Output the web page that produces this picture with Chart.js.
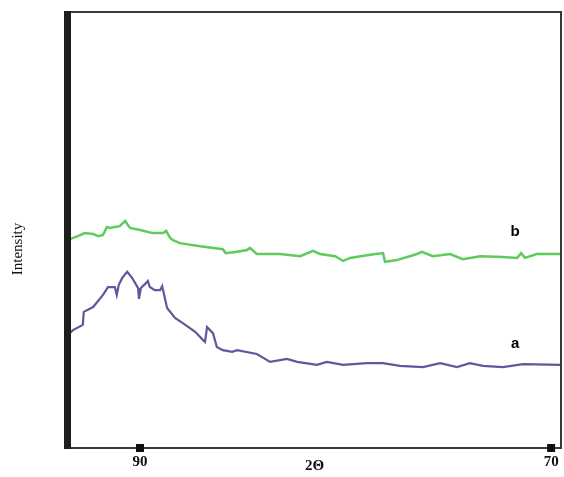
<!DOCTYPE html>
<html>
<head>
<meta charset="utf-8">
<script src="https://cdn.jsdelivr.net/npm/chart.js@4.4.1/dist/chart.umd.min.js"></script>
<style>
    body { margin: 0; background: #fff; }
    canvas { display: block; }
</style>
</head>
<body>
<canvas id="xrdChart" width="564" height="477"></canvas>
<script>
// position along the 2-theta axis (0..100 of the frame width) and relative intensity
const sampleBX = [0.4, 2.0, 3.4, 5.1, 6.1, 7.1, 7.9, 8.5, 9.5, 10.5, 11.6, 12.0, 12.6, 14.6, 17.2, 19.3, 19.9, 20.7, 21.3, 22.7,
    26.8, 31.4, 32.0, 34.3, 36.3, 36.9, 38.3, 43.0, 47.1, 49.7, 51.1, 54.2, 55.8, 57.2, 61.3, 63.9, 64.3, 66.7, 70.8, 71.8,
    74.0, 77.5, 80.1, 83.6, 88.2, 91.1, 91.9, 92.7, 95.1, 100];
const sampleBY = [48.0, 48.7, 49.4, 49.2, 48.7, 49.0, 50.8, 50.6, 50.8, 51.0, 52.2, 51.5, 50.6, 50.1, 49.4, 49.4, 49.9, 48.3, 47.8, 47.1,
    46.4, 45.7, 44.8, 45.1, 45.5, 46.0, 44.6, 44.6, 44.1, 45.3, 44.6, 44.1, 43.0, 43.7, 44.4, 44.8, 42.8, 43.2, 44.6, 45.1,
    44.1, 44.6, 43.4, 44.1, 43.9, 43.7, 44.8, 43.7, 44.6, 44.6];

const sampleAX = [0, 1.0, 3.0, 3.2, 5.1, 7.1, 8.1, 9.5, 9.9, 10.3, 11.0, 12.0, 13.0, 14.2, 14.4, 14.8, 15.8, 16.2, 16.6, 17.6,
    18.7, 19.1, 20.1, 21.7, 23.3, 25.8, 27.4, 27.8, 28.2, 28.8, 29.4, 30.2, 31.4, 33.3, 34.3, 38.3, 41.0, 44.4, 46.5, 50.5,
    52.5, 55.8, 60.6, 63.9, 67.3, 72.0, 75.5, 78.9, 81.5, 84.2, 88.2, 92.3, 100];
const sampleAY = [26.0, 27.1, 28.3, 31.3, 32.4, 35.2, 37.0, 37.0, 35.2, 37.5, 39.1, 40.5, 39.1, 36.8, 34.3, 36.8, 37.9, 38.4, 37.0, 36.3,
    36.3, 37.2, 32.2, 29.9, 28.7, 26.7, 24.8, 24.4, 27.8, 27.1, 26.4, 23.2, 22.5, 22.1, 22.5, 21.6, 19.8, 20.5, 19.8, 19.1,
    19.8, 19.1, 19.5, 19.5, 18.9, 18.6, 19.5, 18.6, 19.5, 18.9, 18.6, 19.3, 19.1];

const tickPositions = [14.6, 98.0];
const tickLabels = ['90', '70'];

const curveLabels = ['b', 'a'];
const curveLabelX = [90.7, 90.7];
const curveLabelY = [49.7, 23.9];

function toPoints(xs, ys) {
    return xs.map((x, i) => ({ x: x, y: ys[i] }));
}

const framePlugin = {
    id: 'framePlugin',
    afterDraw(chart) {
        const ctx = chart.ctx;
        const area = chart.chartArea;
        const xScale = chart.scales.x;
        const yScale = chart.scales.y;
        ctx.save();

        // thin frame: top, right, bottom
        ctx.strokeStyle = '#3a3a3a';
        ctx.lineWidth = 2;
        ctx.beginPath();
        ctx.moveTo(area.left, area.top - 1);
        ctx.lineTo(area.right, area.top - 1);
        ctx.lineTo(area.right, area.bottom);
        ctx.moveTo(area.left, area.bottom);
        ctx.lineTo(area.right + 1, area.bottom);
        ctx.stroke();

        // thick left axis
        ctx.fillStyle = '#1e1e1e';
        ctx.fillRect(area.left - 4, area.top - 2, 7, area.bottom - area.top + 3);

        // square tick markers
        ctx.fillStyle = '#111';
        tickPositions.forEach(v => {
            const px = xScale.getPixelForValue(v);
            ctx.fillRect(px - 4, area.bottom - 4, 8, 8);
        });

        // y title
        ctx.translate(18, 249);
        ctx.rotate(-Math.PI / 2);
        ctx.fillStyle = '#111';
        ctx.font = '15px "Liberation Serif", serif';
        ctx.textAlign = 'center';
        ctx.textBaseline = 'middle';
        ctx.fillText('Intensity', 0, 0);
        ctx.setTransform(1, 0, 0, 1, 0, 0);

        // curve labels
        ctx.font = 'bold 15px "Liberation Sans", Arial, sans-serif';
        ctx.fillStyle = '#000';
        ctx.textAlign = 'center';
        ctx.textBaseline = 'middle';
        curveLabels.forEach((t, i) => {
            ctx.fillText(t, xScale.getPixelForValue(curveLabelX[i]), yScale.getPixelForValue(curveLabelY[i]));
        });
        ctx.restore();
    }
};

const ctx = document.getElementById('xrdChart').getContext('2d');
new Chart(ctx, {
    type: 'line',
    data: {
        datasets: [
            {
                label: 'b',
                data: toPoints(sampleBX, sampleBY),
                borderColor: '#5ecb5e',
                borderWidth: 2.5,
                pointRadius: 0,
                tension: 0,
                fill: false
            },
            {
                label: 'a',
                data: toPoints(sampleAX, sampleAY),
                borderColor: '#5a5a9c',
                borderWidth: 2.2,
                pointRadius: 0,
                tension: 0,
                fill: false
            }
        ]
    },
    options: {
        responsive: false,
        animation: false,
        layout: {
            padding: { left: 68, right: 3, top: 13, bottom: 0 }
        },
        plugins: {
            legend: { display: false },
            tooltip: { enabled: false }
        },
        scales: {
            x: {
                type: 'linear',
                min: 0,
                max: 100,
                afterBuildTicks: (scale) => {
                    scale.ticks = tickPositions.map(v => ({ value: v }));
                },
                afterFit: (scale) => {
                    scale.height = 29;
                },
                grid: { display: false, drawTicks: false },
                border: { display: false },
                ticks: {
                    autoSkip: false,
                    maxRotation: 0,
                    padding: 5,
                    color: '#111',
                    font: { family: '"Liberation Serif", serif', size: 15, weight: 'bold' },
                    callback: (value, index) => tickLabels[index]
                },
                title: {
                    display: true,
                    text: '2Θ',
                    color: '#111',
                    padding: { top: 0, bottom: 2 },
                    font: { family: '"Liberation Serif", serif', size: 15, weight: 'bold' }
                }
            },
            y: {
                display: false,
                min: 0,
                max: 100
            }
        }
    },
    plugins: [framePlugin]
});
</script>
</body>
</html>
